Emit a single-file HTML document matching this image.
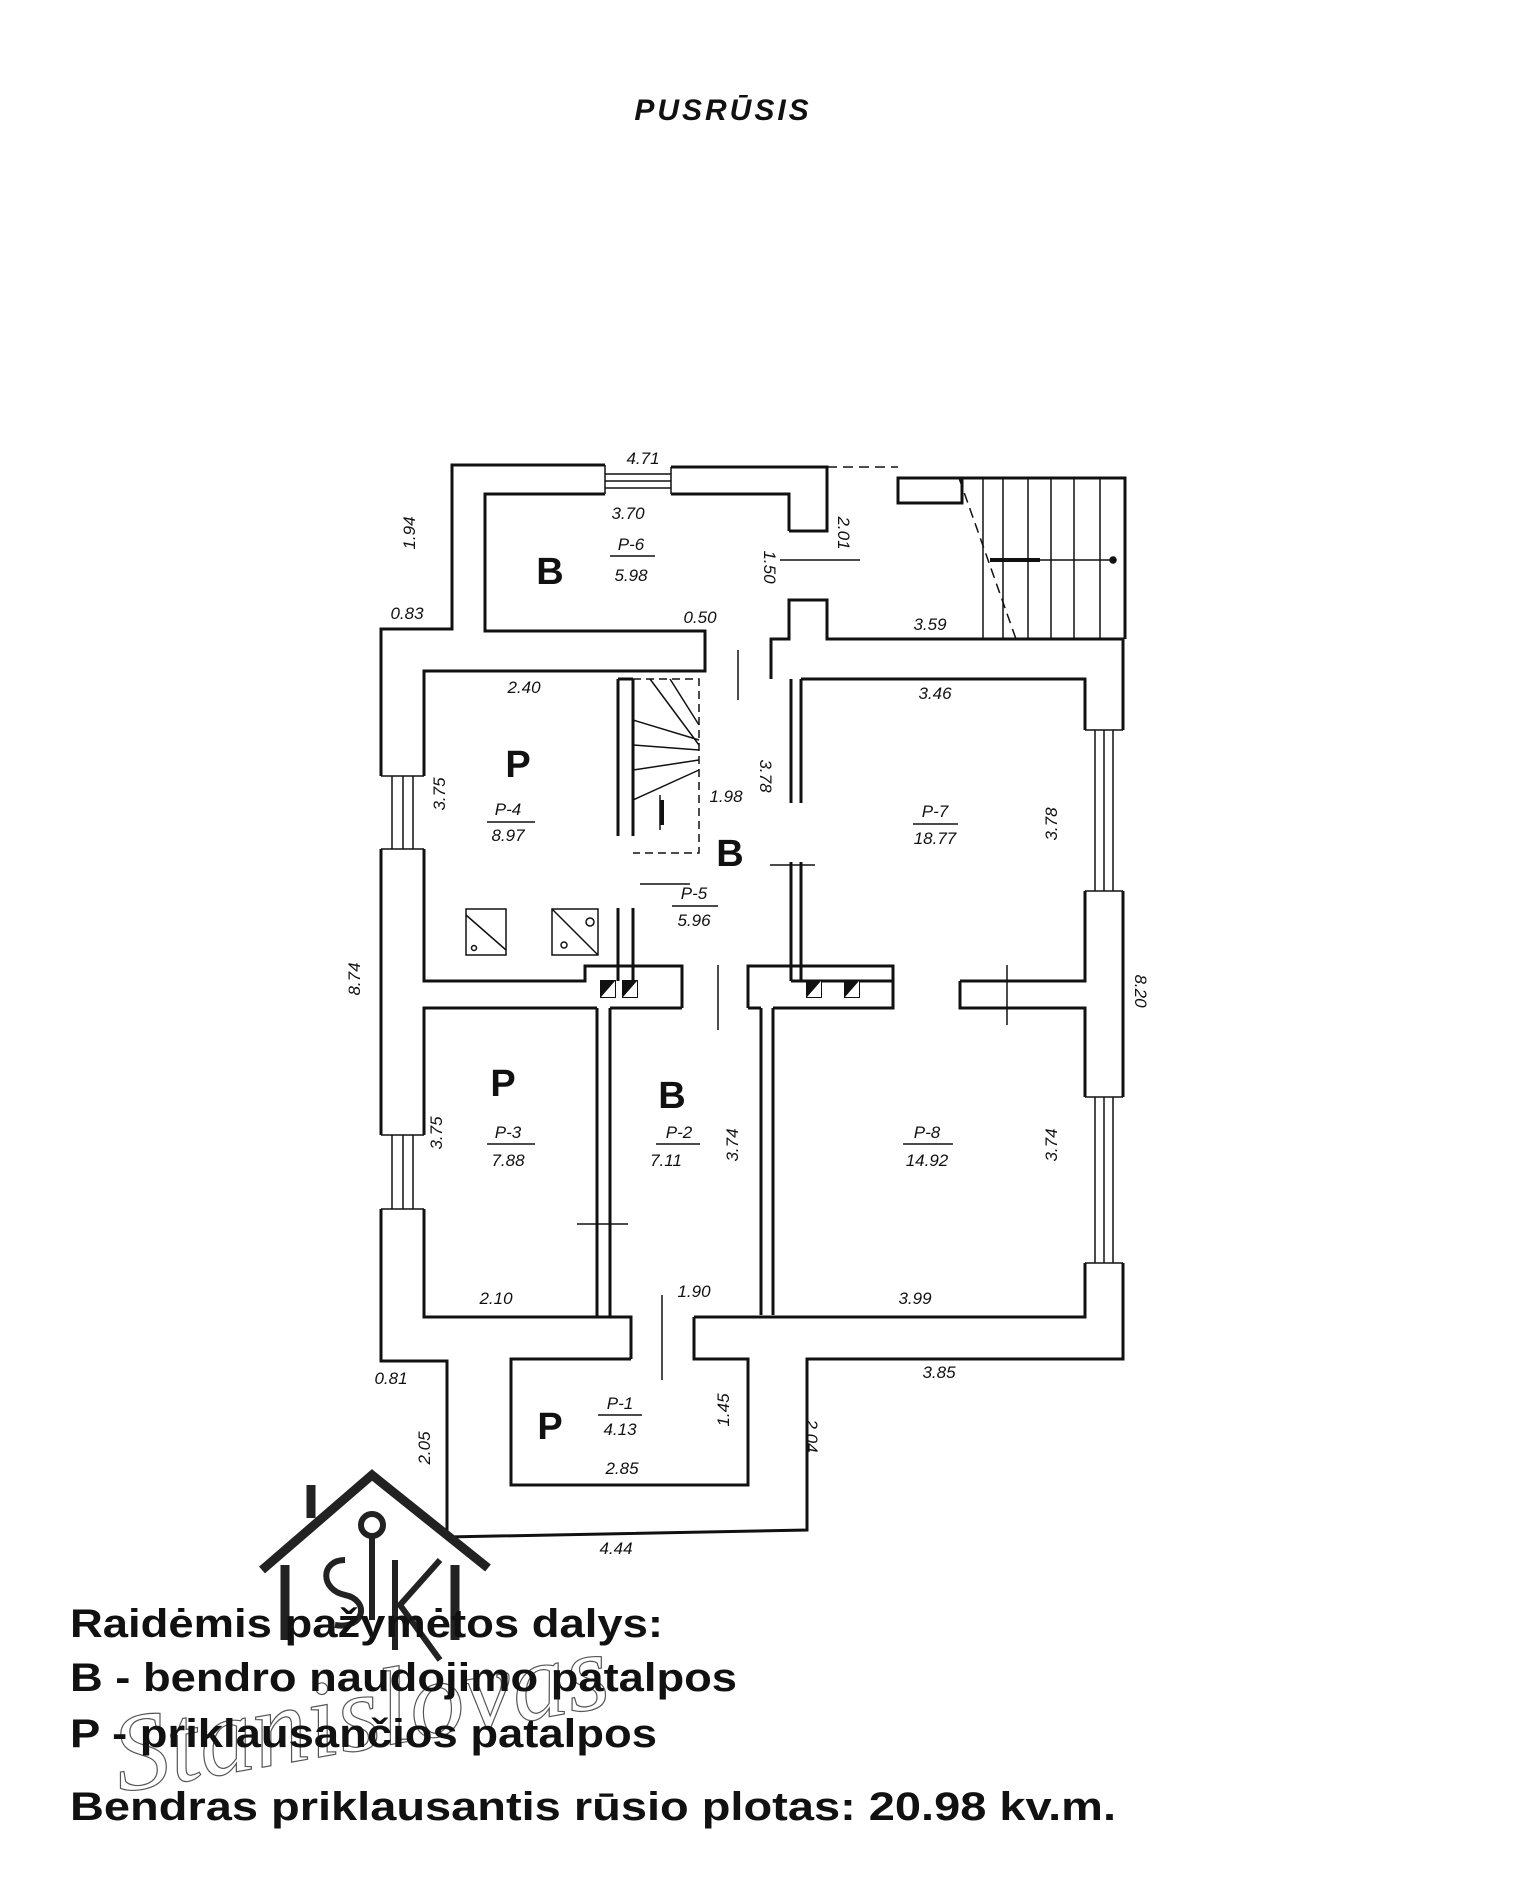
<!DOCTYPE html>
<html><head><meta charset="utf-8"><style>
html,body{margin:0;padding:0;background:#fff;}
svg{display:block}
.d{font-family:"Liberation Sans",sans-serif;font-style:italic;font-size:17px;fill:#111;text-anchor:middle}
.L{font-family:"Liberation Sans",sans-serif;font-weight:bold;font-size:38px;fill:#111;text-anchor:middle}
.t{font-family:"Liberation Sans",sans-serif;font-weight:bold;font-size:40px;fill:#111}
</style></head><body>
<svg width="1531" height="1900" viewBox="0 0 1531 1900" xmlns="http://www.w3.org/2000/svg">
<text x="723" y="120" style="font-family:'Liberation Sans',sans-serif;font-style:italic;font-weight:bold;font-size:30px;letter-spacing:3px" text-anchor="middle" fill="#111">PUSRŪSIS</text>

<g fill="none" stroke="#111" stroke-width="3" stroke-linejoin="miter">
<path d="M605,465 H452 V629 H381 V776"/>
<path d="M381,849 V1135"/>
<path d="M381,1209 V1361 H447 V1537 L807,1530 V1359 H1123 V1263"/>
<path d="M1123,1097 V891"/>
<path d="M1123,730 V639 H827 V600 H789 V639 H771 V679"/>
<path d="M671,467 H827 V531 H789"/>
<g stroke-width="1.5">
<path d="M381,776 H424 M381,849 H424 M392,776 V849 M403,776 V849 M413,776 V849"/>
<path d="M381,1135 H424 M381,1209 H424 M392,1135 V1209 M403,1135 V1209 M413,1135 V1209"/>
<path d="M1085,730 H1123 M1085,891 H1123 M1095,730 V891 M1104,730 V891 M1113,730 V891"/>
<path d="M1085,1097 H1123 M1085,1263 H1123 M1095,1097 V1263 M1104,1097 V1263 M1113,1097 V1263"/>
<path d="M605,465 V494 M671,467 V494 M605,474 H671 M605,481 H671 M605,488 H671"/>
</g>
<path d="M605,494 H485 V631 H705 V671 H424 V776"/>
<path d="M671,494 H789 V531"/>
<path d="M789,600 V631"/>
<path d="M424,849 V981 H585 V966 H682 V981"/>
<path d="M424,1135 V1008 H597"/>
<path d="M424,1209 V1317 H631 V1359"/>
<path d="M618,679 V836 M633,679 V836 M618,679 H633 M618,908 V981 M633,908 V981"/>
<path d="M791,679 V803 M801,679 V803 M791,862 V981 M801,862 V981"/>
<path d="M801,679 H1085 V730"/>
<path d="M748,981 V966 H893 V981 H791"/>
<path d="M960,981 H1085 V891"/>
<path d="M682,1008 H610"/>
<path d="M748,1008 H761"/>
<path d="M773,1008 H893 V981 M960,981 V1008 H1085 V1097"/>
<path d="M682,981 V1008 M748,981 V1008"/>
<path d="M597,1008 V1317 M610,1008 V1317"/>
<path d="M761,1008 V1315 M773,1008 V1315"/>
<path d="M610,1317 H631 M694,1317 H1085 V1263"/>
<path d="M694,1317 V1359 H748 V1485 H511 V1359 H631"/>
<path d="M898,478 H962 V503 H898 Z"/>
<path d="M962,478 H1125 V639"/>
</g>
<g stroke="#111" stroke-width="1.5" fill="none">
<path d="M827,467 H898" stroke-dasharray="10,6"/>
<path d="M959,478 L1016,639" stroke-dasharray="10,6"/>
<path d="M983,478 V639 M1003,478 V639 M1028,478 V639 M1051,478 V639 M1074,478 V639 M1100,478 V639"/>
<path d="M990,560 H1113"/><path d="M990,560 H1040" stroke-width="4"/>
<circle cx="1113" cy="560" r="3" fill="#111"/>
<path d="M633,679 H699 V853 H633" stroke-dasharray="8,5"/>
<path d="M633,720 L699,740 M633,745 L699,750 M633,770 L699,760 M650,679 L699,745 M670,679 L699,725 M633,800 L699,770 M660,795 V830"/>
<path d="M662,800 V825" stroke-width="4"/>
<path d="M738,650 V700 M780,560 H860 M640,884 H690 M770,865 H815 M718,965 V1030 M1007,965 V1025 M577,1224 H628 M662,1295 V1380"/>
<path d="M610,556 H655 M487,822 H535 M672,906 H718 M913,824 H958 M487,1144 H535 M656,1144 H700 M903,1144 H953 M598,1415 H642"/>
<rect x="466" y="909" width="40" height="46"/><path d="M466,915 L506,950"/><circle cx="474" cy="948" r="2.5"/>
<rect x="552" y="909" width="46" height="46"/><path d="M552,909 L598,955"/><circle cx="590" cy="922" r="4"/><circle cx="564" cy="945" r="3"/>
</g>
<g fill="#111"><rect x="600" y="980" width="16" height="18"/><rect x="622" y="980" width="16" height="18"/><rect x="806" y="980" width="16" height="18"/><rect x="844" y="980" width="16" height="18"/></g>
<g fill="#fff"><path d="M601,997 L615,981 V997 Z"/><path d="M623,997 L637,981 V997 Z"/><path d="M807,997 L821,981 V997 Z"/><path d="M845,997 L859,981 V997 Z"/></g>

<text class="L" x="550" y="584">B</text>
<text class="L" x="518" y="777">P</text>
<text class="L" x="730" y="866">B</text>
<text class="L" x="503" y="1096">P</text>
<text class="L" x="672" y="1108">B</text>
<text class="L" x="550" y="1439">P</text>

<g class="d">
<text x="643" y="464">4.71</text>
<text x="628" y="519">3.70</text>
<text x="631" y="550">P-6</text><text x="631" y="581">5.98</text>
<text x="407" y="619">0.83</text>
<text x="930" y="630">3.59</text>
<text x="700" y="623">0.50</text>
<text x="524" y="693">2.40</text>
<text x="935" y="699">3.46</text>
<text x="508" y="815">P-4</text><text x="508" y="841">8.97</text>
<text x="726" y="802">1.98</text>
<text x="694" y="899">P-5</text><text x="694" y="926">5.96</text>
<text x="935" y="817">P-7</text><text x="935" y="844">18.77</text>
<text x="508" y="1138">P-3</text><text x="508" y="1166">7.88</text>
<text x="679" y="1138">P-2</text><text x="666" y="1166">7.11</text>
<text x="927" y="1138">P-8</text><text x="927" y="1166">14.92</text>
<text x="496" y="1304">2.10</text>
<text x="694" y="1297">1.90</text>
<text x="915" y="1304">3.99</text>
<text x="391" y="1384">0.81</text>
<text x="939" y="1378">3.85</text>
<text x="620" y="1409">P-1</text><text x="620" y="1435">4.13</text>
<text x="622" y="1474">2.85</text>
<text x="616" y="1554">4.44</text>
<text transform="translate(415,533) rotate(-90)">1.94</text>
<text transform="translate(764,567) rotate(90)">1.50</text>
<text transform="translate(838,533) rotate(90)">2.01</text>
<text transform="translate(445,794) rotate(-90)">3.75</text>
<text transform="translate(760,776) rotate(90)">3.78</text>
<text transform="translate(1057,824) rotate(-90)">3.78</text>
<text transform="translate(360,979) rotate(-90)">8.74</text>
<text transform="translate(1135,991) rotate(90)">8.20</text>
<text transform="translate(442,1133) rotate(-90)">3.75</text>
<text transform="translate(738,1145) rotate(-90)">3.74</text>
<text transform="translate(1057,1145) rotate(-90)">3.74</text>
<text transform="translate(729,1410) rotate(-90)">1.45</text>
<text transform="translate(430,1448) rotate(-90)">2.05</text>
<text transform="translate(806,1436) rotate(90)">2.04</text>
</g>

<g fill="none" stroke="#222" stroke-width="9">
<path d="M262,1570 L372,1475 L488,1568"/>
<path d="M311,1518 V1485"/>
<path d="M285,1565 V1640 M455,1565 V1640"/>
</g>
<g fill="none" stroke="#222" stroke-width="6">
<circle cx="372" cy="1525" r="11"/>
<path d="M372,1536 V1620 M345,1560 C320,1560 320,1590 345,1595 C370,1600 365,1630 335,1625 M395,1560 V1650 M440,1560 L400,1605 L440,1660"/>
</g>
<text x="110" y="1760" style="font-family:'Liberation Serif',serif;font-style:italic;font-size:110px;fill:none;stroke:#555;stroke-width:1.2" transform="rotate(-10 300 1720)">Stanislovas</text>

<g class="t">
<text x="70" y="1637" textLength="593" lengthAdjust="spacingAndGlyphs">Raidėmis pažymėtos dalys:</text>
<text x="70" y="1691" textLength="667" lengthAdjust="spacingAndGlyphs">B - bendro naudojimo patalpos</text>
<text x="70" y="1747" textLength="587" lengthAdjust="spacingAndGlyphs">P - priklausančios patalpos</text>
<text x="70" y="1820" textLength="1046" lengthAdjust="spacingAndGlyphs">Bendras priklausantis rūsio plotas: 20.98 kv.m.</text>
</g>
</svg>
</body></html>
